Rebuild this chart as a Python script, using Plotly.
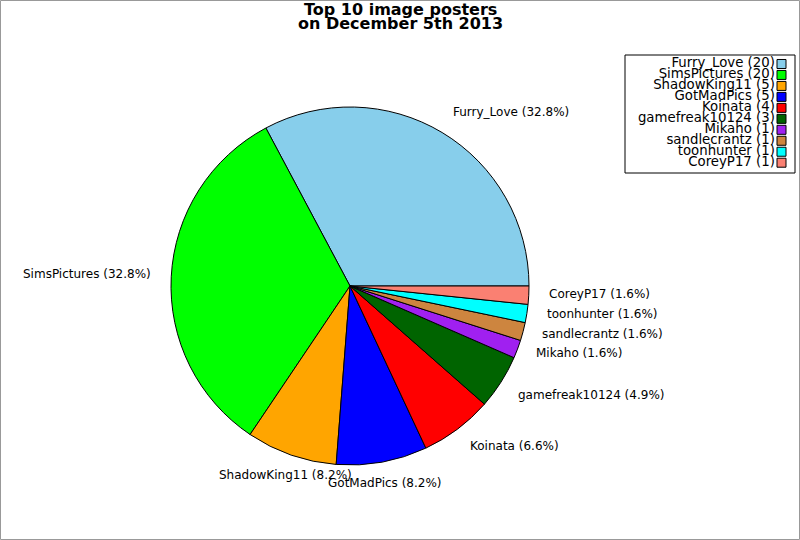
import numpy as np
import plotly.graph_objects as go

# data
names = ['Furry_Love', 'SimsPictures', 'ShadowKing11', 'GotMadPics', 'Koinata',
         'gamefreak10124', 'Mikaho', 'sandlecrantz', 'toonhunter', 'CoreyP17']
counts = [20, 20, 5, 5, 4, 3, 1, 1, 1, 1]
colors = ['#87ceeb', '#00ff00', '#ffa500', '#0000ff', '#ff0000',
          '#006400', '#a020f0', '#cd853f', '#00ffff', '#fa8072']
title_lines = ['Top 10 image posters', 'on December 5th 2013']

W, H = 800, 540
FONT = 'DejaVu Sans'

# pie placement (pixels)
cx, cy, rad = 350, 286, 179
dom_x = [(cx - rad) / W, (cx + rad) / W]
dom_y = [1 - (cy + rad) / H, 1 - (cy - rad) / H]

# overlay axis for the slice labels: same centre/scale as the pie, wider range
ext = 1.3
lab_x = [(cx - ext * rad) / W, (cx + ext * rad) / W]
lab_y = [1 - (cy + ext * rad) / H, 1 - (cy - ext * rad) / H]

total = float(sum(counts))

fig = go.Figure()
# plotly's counterclockwise mode puts the first slice just clockwise of "rotation",
# so shift by its size to make it start at 3 o'clock
fig.add_trace(go.Pie(
    labels=names, values=counts, sort=False, direction='counterclockwise',
    rotation=90 - 360.0 * counts[0] / total, textinfo='none', hoverinfo='label+percent',
    marker=dict(colors=colors, line=dict(color='black', width=1)),
    domain=dict(x=dom_x, y=dom_y), showlegend=False,
))

# labels at 1.1 radius
cum = np.cumsum([0] + counts[:-1])
annotations = []
for n, c, s in zip(names, counts, cum):
    mid = (s + c / 2.0) / total * 2 * np.pi
    deg = np.degrees(mid)
    lx, ly = 1.1 * np.cos(mid), 1.1 * np.sin(mid)
    if 240 < deg < 300:
        xa = 'center'
    elif lx > 0:
        xa = 'left'
    else:
        xa = 'right'
    if ly > 0.5:
        ys = 5
    elif ly > -0.5:
        ys = 2
    else:
        ys = -3
    annotations.append(dict(
        x=lx, y=ly, xref='x2', yref='y2', showarrow=False,
        text='%s (%.1f%%)' % (n, 100.0 * c / total),
        xanchor=xa, yanchor='middle', yshift=ys,
        font=dict(family=FONT, size=12, color='black'),
    ))

# two-line bold title, tightly spaced
for i, line in enumerate(title_lines):
    annotations.append(dict(
        x=0.5, y=1 - (10 + 14 * i) / H, xref='paper', yref='paper', showarrow=False,
        text='<b>%s</b>' % line, xanchor='center', yanchor='middle',
        font=dict(family=FONT, size=16, color='black'),
    ))

# legend drawn as a little marker column on its own axis
leg_y = list(range(len(names)))[::-1]
fig.add_trace(go.Scatter(
    x=[0] * len(names), y=leg_y, mode='markers+text',
    text=['%s (%d)' % (n, c) for n, c in zip(names, counts)],
    textposition='middle left',
    textfont=dict(family=FONT, size=13.3, color='black'),
    marker=dict(symbol='square', size=9, color=colors, line=dict(color='black', width=1)),
    xaxis='x3', yaxis='y3', showlegend=False, hoverinfo='skip', cliponaxis=False,
))

hidden = dict(visible=False, fixedrange=True)
fig.update_layout(
    width=W, height=H,
    margin=dict(l=0, r=0, t=0, b=0),
    paper_bgcolor='white', plot_bgcolor='rgba(0,0,0,0)',
    font=dict(family=FONT, size=12, color='black'),
    xaxis2=dict(domain=lab_x, range=[-ext, ext], **hidden),
    yaxis2=dict(domain=lab_y, range=[-ext, ext], anchor='x2', **hidden),
    xaxis3=dict(domain=[777 / W, 786 / W], range=[-0.5, 0.5], **hidden),
    yaxis3=dict(domain=[1 - 168.2 / H, 1 - 58.5 / H], range=[-0.5, 9.5], anchor='x3', **hidden),
    annotations=annotations,
    shapes=[
        dict(type='rect', xref='paper', yref='paper', x0=625 / W, x1=795 / W,
             y0=1 - 173 / H, y1=1 - 55 / H, line=dict(color='black', width=1)),
        dict(type='rect', xref='paper', yref='paper', x0=0.5 / W, x1=1 - 0.5 / W,
             y0=0.5 / H, y1=1 - 0.5 / H, line=dict(color='#999999', width=1)),
    ],
)

# drop the page's default body margin so the figure sits at the window's corner
fig.write_html("out.html", config={'displayModeBar': False},
               post_script="document.body.style.margin='0px';")
